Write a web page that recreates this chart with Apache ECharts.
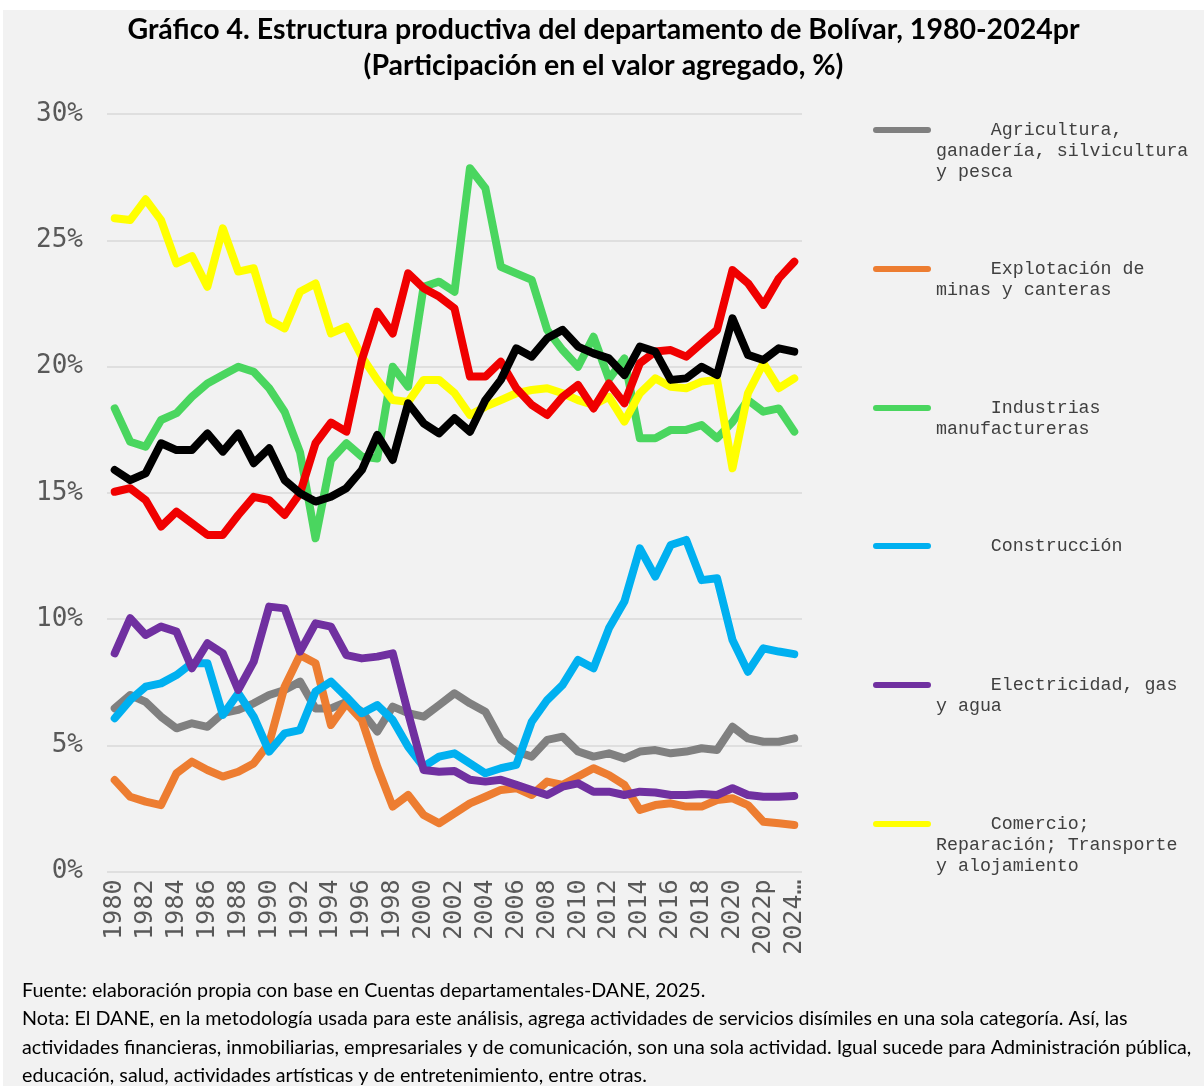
<!DOCTYPE html>
<html>
<head>
<meta charset="utf-8">
<script src="https://cdn.jsdelivr.net/npm/echarts@6/dist/echarts.min.js"></script>
<style>
  html, body { margin: 0; background: #fff; }
  #chart { position: absolute; left: 3px; top: 10px; width: 1201px; height: 1076px; }
</style>
</head>
<body>
<div id="chart"></div>
<script>
// years on the x axis
var years = [];
for (var y = 1980; y <= 2021; y++) years.push(String(y));
years.push('2022p', '2023pr', '2024pr');

// participation in value added (%)
var agricultura = [6.46, 6.99, 6.72, 6.13, 5.67, 5.87, 5.73, 6.27, 6.40, 6.66, 6.99, 7.19, 7.52, 6.46, 6.46, 6.72, 6.33, 5.54, 6.53, 6.27, 6.13, 6.59, 7.06, 6.66, 6.33, 5.21, 4.75, 4.55, 5.21, 5.34, 4.75, 4.55, 4.68, 4.48, 4.75, 4.81, 4.68, 4.75, 4.88, 4.81, 5.73, 5.27, 5.14, 5.14, 5.27];
var minas = [3.62, 2.96, 2.77, 2.63, 3.89, 4.35, 4.02, 3.76, 3.95, 4.28, 5.08, 7.32, 8.57, 8.25, 5.80, 6.66, 6.00, 4.15, 2.57, 3.03, 2.24, 1.91, 2.30, 2.70, 2.96, 3.23, 3.30, 3.03, 3.56, 3.43, 3.76, 4.09, 3.82, 3.43, 2.44, 2.63, 2.70, 2.57, 2.57, 2.83, 2.90, 2.63, 1.97, 1.91, 1.84];
var industria = [18.34, 17.02, 16.82, 17.88, 18.15, 18.80, 19.33, 19.66, 19.99, 19.79, 19.14, 18.21, 16.60, 13.20, 16.30, 16.96, 16.43, 16.36, 19.99, 19.20, 23.16, 23.36, 22.96, 27.85, 27.06, 23.95, 23.69, 23.43, 21.45, 20.65, 19.99, 21.18, 19.50, 20.32, 17.16, 17.16, 17.49, 17.49, 17.68, 17.16, 17.80, 18.67, 18.21, 18.34, 17.42];
var construccion = [6.07, 6.79, 7.32, 7.45, 7.78, 8.25, 8.25, 6.20, 7.06, 6.13, 4.75, 5.47, 5.60, 7.12, 7.52, 6.92, 6.27, 6.59, 6.00, 4.94, 4.15, 4.55, 4.68, 4.28, 3.89, 4.09, 4.22, 5.93, 6.79, 7.39, 8.38, 8.05, 9.63, 10.69, 12.80, 11.68, 12.93, 13.13, 11.54, 11.61, 9.17, 7.91, 8.84, 8.71, 8.61];
var electricidad = [8.64, 10.03, 9.37, 9.70, 9.50, 8.05, 9.04, 8.64, 7.19, 8.31, 10.49, 10.42, 8.71, 9.83, 9.70, 8.57, 8.44, 8.51, 8.64, 6.27, 4.02, 3.95, 3.98, 3.63, 3.56, 3.63, 3.43, 3.23, 3.03, 3.36, 3.49, 3.16, 3.16, 3.03, 3.16, 3.13, 3.03, 3.03, 3.07, 3.03, 3.30, 3.03, 2.96, 2.96, 2.99];
var comercio = [25.87, 25.80, 26.62, 25.80, 24.08, 24.37, 23.16, 25.47, 23.76, 23.89, 21.84, 21.51, 22.96, 23.29, 21.31, 21.58, 20.39, 19.47, 18.67, 18.60, 19.47, 19.47, 18.95, 18.08, 18.41, 18.67, 18.94, 19.07, 19.14, 18.94, 18.67, 18.48, 18.80, 17.82, 18.94, 19.53, 19.20, 19.14, 19.40, 19.47, 15.97, 18.94, 20.13, 19.14, 19.53];
var financieras = [15.04, 15.18, 14.71, 13.66, 14.25, 13.79, 13.33, 13.33, 14.12, 14.84, 14.71, 14.12, 14.98, 16.96, 17.78, 17.42, 20.26, 22.17, 21.31, 23.69, 23.10, 22.77, 22.30, 19.60, 19.60, 20.19, 19.14, 18.48, 18.08, 18.80, 19.27, 18.34, 19.33, 18.54, 20.13, 20.59, 20.65, 20.39, 20.92, 21.45, 23.82, 23.30, 22.44, 23.49, 24.15];
var servicios = [15.90, 15.50, 15.77, 16.96, 16.69, 16.69, 17.35, 16.63, 17.35, 16.17, 16.76, 15.50, 14.98, 14.65, 14.84, 15.18, 15.90, 17.29, 16.30, 18.54, 17.75, 17.35, 17.95, 17.42, 18.67, 19.47, 20.72, 20.39, 21.12, 21.45, 20.79, 20.52, 20.32, 19.66, 20.79, 20.59, 19.47, 19.53, 19.99, 19.66, 21.91, 20.46, 20.26, 20.72, 20.59];

var seriesNames = [
  'Agricultura, ganadería, silvicultura y pesca',
  'Explotación de minas y canteras',
  'Industrias manufactureras',
  'Construcción',
  'Electricidad, gas y agua',
  'Comercio; Reparación; Transporte y alojamiento',
  'Actividades financieras, inmobiliarias, empresariales y de comunicación',
  'Administración pública, educación, salud y otras'
];
var seriesData = [agricultura, minas, industria, construccion, electricidad, comercio, financieras, servicios];
var colors = ['#808080', '#ed7d31', '#4ad65f', '#00b0f0', '#7030a0', '#ffff00', '#f00000', '#000000'];

// legend text as wrapped in the original
var legendLines = [
  ['     Agricultura,', 'ganadería, silvicultura', 'y pesca'],
  ['     Explotación de', 'minas y canteras'],
  ['     Industrias', 'manufactureras'],
  ['     Construcción'],
  ['     Electricidad, gas', 'y agua'],
  ['     Comercio;', 'Reparación; Transporte', 'y alojamiento']
];
var legendIconY = [120, 259, 398, 536, 675, 814];
var legendLineH = 21;

var footLines = [
  'Fuente: elaboración propia con base en Cuentas departamentales-DANE, 2025.',
  'Nota: El DANE, en la metodología usada para este análisis, agrega actividades de servicios disímiles en una sola categoría. Así, las',
  'actividades financieras, inmobiliarias, empresariales y de comunicación, son una sola actividad. Igual sucede para Administración pública,',
  'educación, salud, actividades artísticas y de entretenimiento, entre otras.'
];

var chart = echarts.init(document.getElementById('chart'));

// rounded bar used as legend key
var keyIcon = 'path://M3,0 L55,0 A3,3 0 0 1 55,6 L3,6 A3,3 0 0 1 3,0 Z';

var legends = legendLines.map(function(lines, i) {
  var n = lines.length;
  // pad with empty lines so the first line sits level with the icon
  var text = new Array(n - 1).fill('').concat(lines).join('\n');
  var total = 2 * n - 1;
  return {
    data: [seriesNames[i]],
    left: 870,
    top: legendIconY[i] - total * legendLineH / 2,
    padding: 0,
    icon: keyIcon,
    itemWidth: 58,
    itemHeight: 6,
    selectedMode: false,
    formatter: function() { return text; },
    textStyle: {
      fontFamily: 'Liberation Mono',
      fontSize: 18.3,
      color: '#404040',
      lineHeight: legendLineH
    }
  };
});

var series = seriesData.map(function(d, i) {
  return {
    name: seriesNames[i],
    type: 'line',
    data: d,
    symbol: 'none',
    color: colors[i],
    lineStyle: { width: 8, color: colors[i], cap: 'round', join: 'round' }
  };
});

var option = {
  backgroundColor: '#f2f2f2',
  animation: false,
  title: {
    text: 'Gráfico 4. Estructura productiva del departamento de Bolívar, 1980-2024pr\n(Participación en el valor agregado, %)',
    left: 'center',
    top: 2,
    padding: [0, 0, 0, 21],
    textStyle: {
      fontFamily: 'Lato',
      fontWeight: 'bold',
      fontSize: 28.5,
      color: '#000',
      lineHeight: 36
    }
  },
  legend: legends,
  grid: { left: 104, right: 402, top: 104, bottom: 214.5 },
  xAxis: {
    type: 'category',
    data: years,
    boundaryGap: true,
    axisTick: { show: false },
    axisLine: { show: false },
    axisLabel: {
      interval: 1,
      rotate: 90,
      margin: 8,
      width: 80,
      overflow: 'truncate',
      ellipsis: '…',
      fontFamily: 'DejaVu Sans Mono',
      fontSize: 25,
      color: '#595959'
    }
  },
  yAxis: {
    type: 'value',
    min: 0,
    max: 30,
    interval: 5,
    axisLine: { show: false },
    axisTick: { show: false },
    splitLine: { lineStyle: { color: '#d9d9d9', width: 1.5 } },
    axisLabel: {
      formatter: '{value}%',
      margin: 24,
      fontFamily: 'DejaVu Sans Mono',
      fontSize: 26,
      color: '#595959'
    }
  },
  graphic: [{
    type: 'text',
    left: 19,
    top: 966,
    style: {
      text: footLines.join('\n'),
      font: '19.7px Lato',
      lineHeight: 28.6,
      fill: '#000'
    }
  }],
  series: series
};

chart.setOption(option);
</script>
</body>
</html>
